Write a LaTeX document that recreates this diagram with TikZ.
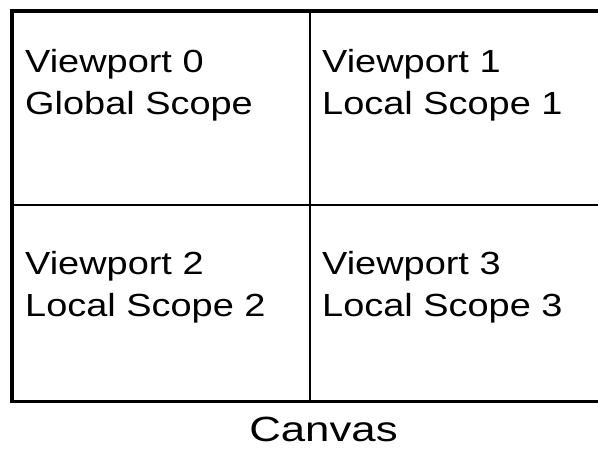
\documentclass[tikz,border=0pt]{standalone}
\usepackage{fontspec}
\setmainfont{Liberation Sans}
\newfontfamily\widefont[FakeStretch=1.185]{Liberation Sans}
\newfontfamily\widerfont[FakeStretch=1.25]{Liberation Sans}
\begin{document}
\begin{tikzpicture}[x=1pt,y=-1pt,
  lbl/.style={anchor=base west,inner sep=0pt,font=\widefont\fontsize{32}{42}\selectfont},
  captionlbl/.style={anchor=base,inner sep=0pt,font=\widerfont\fontsize{35}{42}\selectfont},
  thin line/.style={line width=1.3pt,black},
  frame/.style={line width=3.6pt,black}]
\useasboundingbox (0,0) rectangle (598,449);
\coordinate (tl) at (12,11);
\coordinate (br) at (640,401.5);
\coordinate (vt) at (310,11);
\coordinate (vb) at (310,401.5);
\coordinate (hl) at (12,205);
\coordinate (hr) at (640,205);
\draw[thin line] (vt) -- (vb);
\draw[thin line] (hl) -- (hr);
\draw[frame] (tl) rectangle (br);
\node[lbl] (v0a) at (25,73) {Viewport 0};
\node[lbl] (v0b) at (25,115) {Global Scope};
\node[lbl] (v1a) at (322,73) {Viewport 1};
\node[lbl] (v1b) at (322,115) {Local Scope 1};
\node[lbl] (v2a) at (25,275) {Viewport 2};
\node[lbl] (v2b) at (25,317) {Local Scope 2};
\node[lbl] (v3a) at (322,275) {Viewport 3};
\node[lbl] (v3b) at (322,317) {Local Scope 3};
\node[captionlbl] (cv) at (323.5,442) {Canvas};
\end{tikzpicture}
\end{document}
